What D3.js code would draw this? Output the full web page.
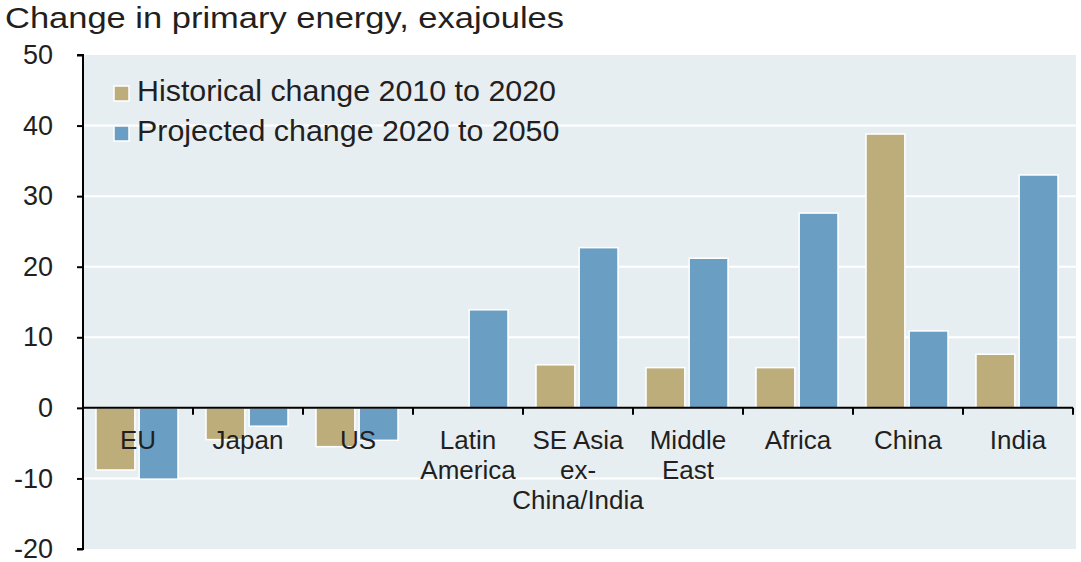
<!DOCTYPE html>
<html>
<head>
<meta charset="utf-8">
<script src="https://cdn.jsdelivr.net/npm/d3@7"></script>
<style>
  html, body { margin: 0; padding: 0; background: #ffffff; }
  svg { display: block; }
  text { font-family: "Liberation Sans", Arial, sans-serif; fill: #231f20; }
</style>
</head>
<body>
<svg id="chart" width="1081" height="562"></svg>
<script>
const categories = ["EU", "Japan", "US", "Latin\nAmerica", "SE Asia\nex-\nChina/India", "Middle\nEast", "Africa", "China", "India"];
const historical = [-8.8, -4.5, -5.5, 0, 6.1, 5.7, 5.7, 38.8, 7.6];
const projected = [-10.1, -2.6, -4.6, 13.9, 22.7, 21.2, 27.6, 10.9, 33.0];
const seriesNames = ["Historical change 2010 to 2020", "Projected change 2020 to 2050"];
const seriesColors = ["#bdad7b", "#6a9ec3"];
const yTicks = [-20, -10, 0, 10, 20, 30, 40, 50];
const title = "Change in primary energy, exajoules";

const svg = d3.select("#chart");
const pL = 83, pR = 1073, pT = 55, pB = 549;

const y = d3.scaleLinear().domain([-20, 50]).range([pB, pT]);
const x0 = d3.scaleBand().domain(categories).range([pL, pR]).padding(0);
const x1 = d3.scaleBand().domain([0, 1]).range([13, 95]).paddingInner(0.1);

// background
svg.append("rect")
  .attr("x", pL + 1).attr("y", pT)
  .attr("width", 1076 - pL - 1).attr("height", pB - pT)
  .attr("fill", "#e7eef2");

// gridlines
svg.append("g").selectAll("line")
  .data(yTicks.filter(d => d !== 0 && d !== -20 && d !== 50))
  .join("line")
  .attr("x1", pL).attr("x2", 1076)
  .attr("y1", d => y(d)).attr("y2", d => y(d))
  .attr("stroke", "#ffffff").attr("stroke-width", 2);

// bars
const rows = categories.map((c, i) => ({ cat: c, vals: [historical[i], projected[i]] }));
const groups = svg.append("g").selectAll("g")
  .data(rows).join("g")
  .attr("transform", d => `translate(${x0(d.cat)},0)`);
groups.selectAll("rect")
  .data(d => d.vals.map((v, k) => ({ k, v })).filter(e => e.v !== 0))
  .join("rect")
  .attr("x", e => x1(e.k))
  .attr("width", x1.bandwidth())
  .attr("y", e => y(Math.max(0, e.v)))
  .attr("height", e => Math.abs(y(e.v) - y(0)))
  .attr("fill", e => seriesColors[e.k])
  .attr("stroke", "#ffffff").attr("stroke-width", 1.5);

// y axis
const yAxis = d3.axisLeft(y).tickValues(yTicks).tickSize(6).tickPadding(24).tickFormat(d => String(d));
const gy = svg.append("g").attr("transform", `translate(${pL},0)`).call(yAxis);
gy.select(".domain").attr("stroke", "#000").attr("stroke-width", 2).attr("d", `M-6,${pT}H0V${pB}H-6`);
gy.selectAll(".tick line").attr("stroke", "#000").attr("stroke-width", 2);
gy.selectAll(".tick text").attr("font-size", 27).attr("fill", "#231f20")
  .attr("font-family", "Liberation Sans, Arial, sans-serif");

// x axis at zero
const boundaries = categories.map(c => x0(c)).concat([pR]);
svg.append("line")
  .attr("x1", pL).attr("x2", pR)
  .attr("y1", y(0)).attr("y2", y(0))
  .attr("stroke", "#000").attr("stroke-width", 2);
svg.append("g").selectAll("line")
  .data(boundaries.slice(1)).join("line")
  .attr("x1", d => d).attr("x2", d => d)
  .attr("y1", y(0)).attr("y2", y(0) + 7)
  .attr("stroke", "#000").attr("stroke-width", 2);

// category labels
const lab = svg.append("g").selectAll("text")
  .data(categories).join("text")
  .attr("x", d => x0(d) + x0.bandwidth() / 2)
  .attr("y", 449)
  .attr("text-anchor", "middle")
  .attr("font-size", 26);
lab.selectAll("tspan")
  .data(d => d.split("\n")).join("tspan")
  .attr("x", function() { return d3.select(this.parentNode).attr("x"); })
  .attr("dy", (d, i) => i === 0 ? 0 : 30)
  .text(d => d);

// title
svg.append("text").attr("x", 5).attr("y", 28).attr("font-size", 30)
  .attr("textLength", 559).attr("lengthAdjust", "spacingAndGlyphs").text(title);

// legend
const leg = svg.append("g").selectAll("g")
  .data(seriesNames).join("g")
  .attr("transform", (d, i) => `translate(114,${86 + i * 40})`);
leg.append("rect").attr("width", 15).attr("height", 15)
  .attr("fill", (d, i) => seriesColors[i])
  .attr("stroke", "#ffffff").attr("stroke-width", 1.5);
leg.append("text").attr("x", 23).attr("y", 15).attr("font-size", 30.4).text(d => d);
</script>
</body>
</html>
